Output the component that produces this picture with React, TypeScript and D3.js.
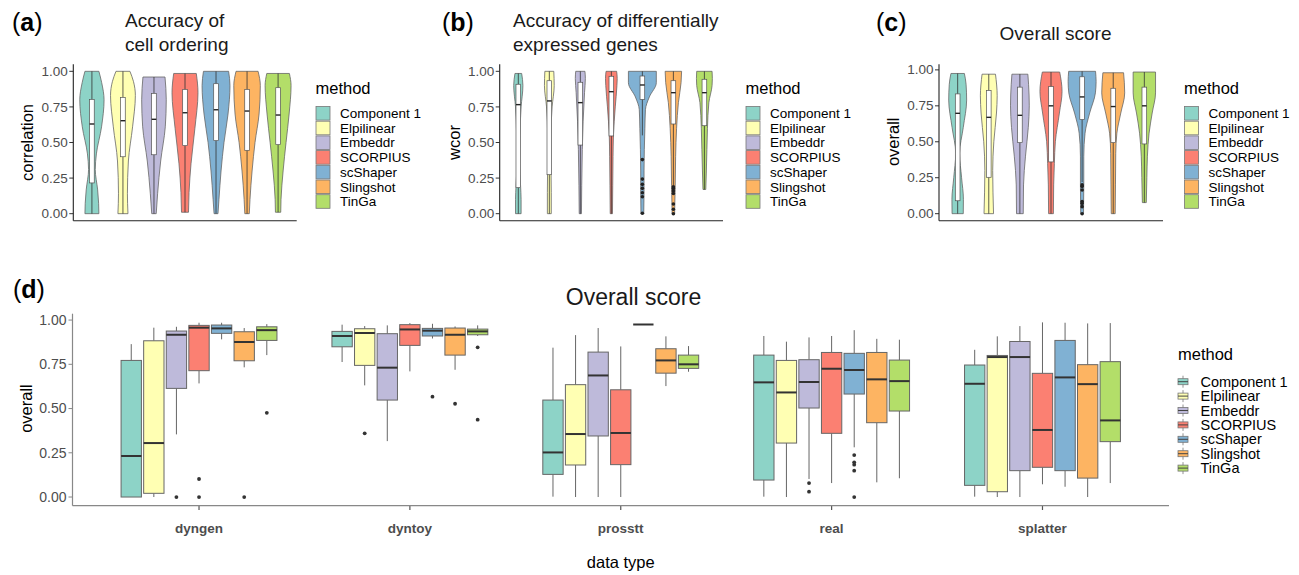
import React from "react";
import * as d3 from "d3";

const methods = ["Component 1", "Elpilinear", "Embeddr", "SCORPIUS", "scShaper", "Slingshot", "TinGa"];
const methodColors = ["#8DD3C7", "#FFFFB3", "#BEBADA", "#FB8072", "#80B1D3", "#FDB462", "#B3DE69"];
const yTicks = [0, 0.25, 0.5, 0.75, 1];

// ---- (a) Accuracy of cell ordering: [lowWhisker, q1, median, q3, highWhisker]
const cellOrderBoxes = [
  [0, 0.216, 0.63, 0.803, 1.0],
  [0, 0.4, 0.653, 0.817, 1.0],
  [0, 0.414, 0.663, 0.845, 0.96],
  [0.01, 0.478, 0.709, 0.873, 0.985],
  [0, 0.513, 0.73, 0.913, 1.0],
  [0, 0.445, 0.721, 0.873, 1.0],
  [0.01, 0.485, 0.693, 0.885, 0.985],
];
// violin density profiles: [value, relative width]
const cellOrderViolins = [
  [[0, 0.5], [0.073, 0.48], [0.167, 0.41], [0.31, 0.24], [0.42, 0.32], [0.61, 0.69], [0.8, 0.87], [0.92, 0.7], [1.0, 0.5]],
  [[0, 0.36], [0.14, 0.32], [0.37, 0.39], [0.61, 0.69], [0.83, 0.89], [0.93, 0.75], [1.0, 0.5]],
  [[0, 0.16], [0.14, 0.26], [0.37, 0.48], [0.61, 0.81], [0.8, 0.88], [0.96, 0.79]],
  [[0.01, 0.25], [0.15, 0.29], [0.35, 0.43], [0.6, 0.71], [0.85, 0.93], [0.985, 0.81]],
  [[0, 0.14], [0.1, 0.21], [0.3, 0.36], [0.5, 0.57], [0.7, 0.86], [0.9, 1.0], [1.0, 0.9]],
  [[0, 0.16], [0.1, 0.21], [0.3, 0.36], [0.5, 0.57], [0.7, 0.86], [0.9, 0.95], [1.0, 0.79]],
  [[0.01, 0.19], [0.1, 0.21], [0.3, 0.36], [0.5, 0.57], [0.7, 0.79], [0.9, 0.93], [0.985, 0.81]],
];
const cellOrderOutliers = [[], [], [], [], [], [], []];

// ---- (b) Accuracy of differentially expressed genes
const degBoxes = [
  [0, 0.183, 0.766, 0.909, 0.985],
  [0, 0.274, 0.792, 0.934, 1.0],
  [0, 0.482, 0.78, 0.923, 1.0],
  [0, 0.546, 0.857, 0.965, 1.0],
  [0.55, 0.803, 0.904, 0.967, 1.0],
  [0.2, 0.63, 0.85, 0.934, 1.0],
  [0.17, 0.618, 0.85, 0.944, 1.0],
];
const degViolins = [
  [[0, 0.2], [0.1, 0.2], [0.2, 0.16], [0.35, 0.1], [0.55, 0.12], [0.75, 0.2], [0.9, 0.33], [0.985, 0.24]],
  [[0, 0.14], [0.15, 0.14], [0.35, 0.12], [0.55, 0.12], [0.75, 0.2], [0.9, 0.35], [1.0, 0.32]],
  [[0, 0.08], [0.2, 0.1], [0.45, 0.14], [0.65, 0.2], [0.85, 0.3], [0.95, 0.36], [1.0, 0.33]],
  [[0, 0.08], [0.2, 0.1], [0.4, 0.12], [0.55, 0.15], [0.75, 0.28], [0.9, 0.4], [0.95, 0.42], [1.0, 0.38]],
  [[0, 0.1], [0.15, 0.12], [0.3, 0.12], [0.45, 0.14], [0.6, 0.18], [0.73, 0.22], [0.82, 0.5], [0.92, 1.0], [1.0, 1.0]],
  [[0, 0.09], [0.2, 0.13], [0.4, 0.16], [0.6, 0.23], [0.78, 0.36], [0.92, 0.55], [1.0, 0.59]],
  [[0.17, 0.1], [0.3, 0.14], [0.45, 0.18], [0.6, 0.22], [0.78, 0.32], [0.9, 0.55], [0.95, 0.57], [1.0, 0.55]],
];
const degOutliers = [
  [], [], [], [],
  [0.38, 0.243, 0.206, 0.178, 0.147, 0.119, 0.003],
  [0.188, 0.177, 0.16, 0.142, 0.068, 0.031, 0],
  [],
];

// ---- (c) Overall score
const overallBoxes = [
  [0, 0.09, 0.698, 0.833, 0.975],
  [0, 0.253, 0.67, 0.856, 0.97],
  [0, 0.494, 0.684, 0.88, 0.97],
  [0, 0.36, 0.75, 0.884, 0.985],
  [0.22, 0.655, 0.812, 0.952, 0.99],
  [0, 0.494, 0.745, 0.872, 0.98],
  [0.077, 0.485, 0.75, 0.88, 0.985],
];
const overallViolins = [
  [[0, 0.4], [0.1, 0.41], [0.25, 0.28], [0.42, 0.14], [0.6, 0.4], [0.79, 0.64], [0.9, 0.6], [0.975, 0.48]],
  [[0, 0.34], [0.15, 0.3], [0.3, 0.28], [0.5, 0.36], [0.7, 0.55], [0.82, 0.6], [0.97, 0.48]],
  [[0, 0.24], [0.2, 0.26], [0.4, 0.4], [0.6, 0.6], [0.75, 0.67], [0.9, 0.62], [0.97, 0.57]],
  [[0, 0.17], [0.2, 0.19], [0.35, 0.24], [0.5, 0.31], [0.7, 0.6], [0.85, 0.79], [0.985, 0.62]],
  [[0, 0.1], [0.2, 0.12], [0.4, 0.12], [0.56, 0.21], [0.7, 0.54], [0.84, 0.95], [0.92, 1.0], [0.99, 0.96]],
  [[0, 0.14], [0.2, 0.16], [0.42, 0.18], [0.56, 0.26], [0.7, 0.54], [0.84, 0.82], [0.98, 0.74]],
  [[0.077, 0.14], [0.25, 0.18], [0.4, 0.22], [0.56, 0.34], [0.7, 0.56], [0.84, 0.8], [0.985, 0.8]],
];
const overallOutliers = [
  [], [], [], [],
  [0.2, 0.19, 0.165, 0.084, 0.072, 0.049, 0.0],
  [], [],
];

// ---- (d) Overall score by data type
const dataTypes = ["dyngen", "dyntoy", "prosstt", "real", "splatter"];
const dyngenBoxes = [
  [0, 0, 0.232, 0.772, 0.864],
  [0, 0.021, 0.305, 0.883, 0.957],
  [0.354, 0.614, 0.917, 0.938, 0.962],
  [0.642, 0.714, 0.957, 0.97, 0.985],
  [0.891, 0.925, 0.953, 0.972, 0.985],
  [0.733, 0.77, 0.876, 0.934, 0.955],
  [0.802, 0.885, 0.943, 0.962, 0.977],
];
const dyngenOutliers = [[], [], [0], [0.102, 0], [], [0], [0.476]];
const dyntoyBoxes = [
  [0.763, 0.849, 0.91, 0.936, 0.974],
  [0.631, 0.744, 0.927, 0.951, 0.966],
  [0.316, 0.548, 0.731, 0.923, 0.97],
  [0.71, 0.857, 0.947, 0.974, 0.983],
  [0.896, 0.91, 0.94, 0.953, 0.979],
  [0.719, 0.802, 0.917, 0.955, 0.964],
  [0.91, 0.917, 0.936, 0.949, 0.97],
];
const dyntoyOutliers = [[], [0.36], [], [], [0.567], [0.527], [0.846, 0.437]];
const prossttBoxes = [
  [0.002, 0.128, 0.252, 0.548, 0.844],
  [0, 0.181, 0.356, 0.635, 0.915],
  [0, 0.345, 0.687, 0.819, 0.955],
  [0, 0.183, 0.362, 0.606, 0.851],
  [0.975, 0.975, 0.975, 0.975, 0.975],
  [0.627, 0.7, 0.772, 0.838, 0.908],
  [0.708, 0.727, 0.75, 0.802, 0.853],
];
const prossttOutliers = [[], [], [], [], [], [], []];
const realBoxes = [
  [0.002, 0.096, 0.648, 0.802, 0.91],
  [0, 0.305, 0.591, 0.772, 0.878],
  [0.102, 0.503, 0.65, 0.776, 0.902],
  [0.079, 0.36, 0.725, 0.817, 0.91],
  [0.281, 0.582, 0.718, 0.812, 0.943],
  [0.083, 0.42, 0.665, 0.817, 0.894],
  [0.106, 0.486, 0.655, 0.774, 0.889],
];
const realOutliers = [[], [], [0.079, 0.03], [], [0.237, 0.196, 0.183, 0.149, 0], [], []];
const splatterBoxes = [
  [0.002, 0.066, 0.64, 0.746, 0.832],
  [0, 0.03, 0.791, 0.8, 0.908],
  [0, 0.149, 0.791, 0.879, 0.966],
  [0.072, 0.168, 0.379, 0.699, 0.987],
  [0.058, 0.149, 0.676, 0.885, 0.985],
  [0, 0.107, 0.638, 0.748, 0.981],
  [0.079, 0.313, 0.433, 0.765, 0.983],
];
const splatterOutliers = [[], [], [], [], [], [], []];

const groupBoxes = [dyngenBoxes, dyntoyBoxes, prossttBoxes, realBoxes, splatterBoxes];
const groupOutliers = [dyngenOutliers, dyntoyOutliers, prossttOutliers, realOutliers, splatterOutliers];

const FONT = "'Liberation Sans', Arial, Helvetica, sans-serif";
const TICK_COLOR = "#4d4d4d";

function ViolinPanel(props: any) {
  const { left, right, domain, titleLines, titleX, titleY, titleAnchor, tag, tagX, ylab, legendX, boxes, violins, outliers } = props;
  const y = d3.scaleLinear().domain(domain).range([220.8, 64.2]);
  const x = d3.scalePoint<string>().domain(methods).range([left, right]).padding(0.6);
  const step = x.step();
  const maxHalf = step * 0.45;
  const bw = step * 0.15;
  const fmt = d3.format(".2f");
  return (
    <g>
      <text x={tagX} y={31} fontSize={25} fontFamily={FONT} fill="#000">
        (<tspan fontWeight="bold">{tag}</tspan>)
      </text>
      {titleLines.map((t: string, i: number) => (
        <text key={i} x={titleX} y={titleY + i * 23.5} fontSize={19} fontFamily={FONT} textAnchor={titleAnchor} fill="#1a1a1a">
          {t}
        </text>
      ))}
      <text transform={`translate(${left - 40},${(y(0) + y(1)) / 2}) rotate(-90)`} fontSize={16.5} fontFamily={FONT} textAnchor="middle" fill="#000">
        {ylab}
      </text>
      {yTicks.map((t) => (
        <g key={t}>
          <line x1={left - 4} x2={left} y1={y(t)} y2={y(t)} stroke="#333" strokeWidth={1} />
          <text x={left - 5.5} y={y(t) + 4.6} fontSize={13.5} fontFamily={FONT} textAnchor="end" fill={TICK_COLOR}>
            {fmt(t)}
          </text>
        </g>
      ))}
      {methods.map((m, i) => {
        const cx = x(m) as number;
        const area = d3
          .area<number[]>()
          .y((d) => y(d[0]))
          .x0((d) => cx - d[1] * maxHalf)
          .x1((d) => cx + d[1] * maxHalf)
          .curve(d3.curveMonotoneY);
        const b = boxes[i];
        return (
          <g key={m}>
            <path d={area(violins[i]) || ""} fill={methodColors[i]} stroke="#666" strokeWidth={0.8} />
            <line x1={cx} x2={cx} y1={y(b[0])} y2={y(b[1])} stroke="#333" strokeWidth={0.8} />
            <line x1={cx} x2={cx} y1={y(b[3])} y2={y(b[4])} stroke="#333" strokeWidth={0.8} />
            <rect x={cx - bw / 2} width={bw} y={y(b[3])} height={y(b[1]) - y(b[3])} fill="#fff" stroke="#555" strokeWidth={0.7} />
            <line x1={cx - bw / 2} x2={cx + bw / 2} y1={y(b[2])} y2={y(b[2])} stroke="#222" strokeWidth={1.4} />
            {outliers[i].map((o: number, k: number) => (
              <circle key={k} cx={cx} cy={y(o)} r={1.8} fill="#222" />
            ))}
          </g>
        );
      })}
      <line x1={left} x2={left} y1={y.range()[0]} y2={y.range()[1]} stroke="#222" strokeWidth={1.1} />
      <line x1={left} x2={right} y1={y.range()[0]} y2={y.range()[0]} stroke="#222" strokeWidth={1.1} />
      <text x={legendX} y={94} fontSize={16.5} fontFamily={FONT} fill="#000">
        method
      </text>
      {methods.map((m, i) => (
        <g key={m}>
          <rect x={legendX + 0.5} y={106.5 + i * 14.7} width={14} height={13.6} fill={methodColors[i]} stroke="#777" strokeWidth={0.8} />
          <text x={legendX + 24.5} y={113.2 + i * 14.7 + 4.8} fontSize={13.5} fontFamily={FONT} fill="#000">
            {m}
          </text>
        </g>
      ))}
    </g>
  );
}

function BoxPanel() {
  const left = 72.5;
  const right = 1169;
  const y = d3.scaleLinear().domain([-0.049, 1.036]).range([505.7, 313.7]);
  const x = d3.scalePoint<string>().domain(dataTypes).range([left, right]).padding(0.6);
  const step = x.step();
  const slot = (step * 0.75) / methods.length;
  const bw = slot * 0.9;
  const fmt = d3.format(".2f");
  const legendX = 1178;
  return (
    <g>
      <text x={13} y={298} fontSize={25} fontFamily={FONT} fill="#000">
        (<tspan fontWeight="bold">d</tspan>)
      </text>
      <text x={633.5} y={305} fontSize={23} fontFamily={FONT} textAnchor="middle" fill="#1a1a1a">
        Overall score
      </text>
      <text transform={`translate(${32},${(y(0) + y(1)) / 2}) rotate(-90)`} fontSize={16.5} fontFamily={FONT} textAnchor="middle" fill="#000">
        overall
      </text>
      <text x={(left + right) / 2} y={568} fontSize={16.5} fontFamily={FONT} textAnchor="middle" fill="#000">
        data type
      </text>
      {yTicks.map((t) => (
        <g key={t}>
          <line x1={left - 4} x2={left} y1={y(t)} y2={y(t)} stroke="#888" strokeWidth={1} />
          <text x={left - 6} y={y(t) + 4.8} fontSize={14} fontFamily={FONT} textAnchor="end" fill={TICK_COLOR}>
            {fmt(t)}
          </text>
        </g>
      ))}
      {dataTypes.map((g, gi) => {
        const gx = x(g) as number;
        return (
          <g key={g}>
            <line x1={gx} x2={gx} y1={505.7} y2={510} stroke="#555" strokeWidth={1.2} />
            <text x={gx} y={533} fontSize={13.5} fontWeight="bold" fontFamily={FONT} textAnchor="middle" fill={TICK_COLOR}>
              {g}
            </text>
            {methods.map((m, i) => {
              const cx = gx + (i - (methods.length - 1) / 2) * slot;
              const b = groupBoxes[gi][i];
              return (
                <g key={m}>
                  <line x1={cx} x2={cx} y1={y(b[0])} y2={y(b[1])} stroke="#666" strokeWidth={1} />
                  <line x1={cx} x2={cx} y1={y(b[3])} y2={y(b[4])} stroke="#666" strokeWidth={1} />
                  <rect x={cx - bw / 2} width={bw} y={y(b[3])} height={Math.max(0, y(b[1]) - y(b[3]))} fill={methodColors[i]} stroke="#666" strokeWidth={1} />
                  <line x1={cx - bw / 2} x2={cx + bw / 2} y1={y(b[2])} y2={y(b[2])} stroke="#333" strokeWidth={2} />
                  {groupOutliers[gi][i].map((o: number, k: number) => (
                    <circle key={k} cx={cx} cy={y(o)} r={1.9} fill="#333" />
                  ))}
                </g>
              );
            })}
          </g>
        );
      })}
      <line x1={left} x2={left} y1={y.range()[0]} y2={y.range()[1]} stroke="#888" strokeWidth={1.2} />
      <line x1={left} x2={right} y1={y.range()[0]} y2={y.range()[0]} stroke="#888" strokeWidth={1.2} />
      <text x={legendX} y={359.5} fontSize={16.5} fontFamily={FONT} fill="#000">
        method
      </text>
      {methods.map((m, i) => {
        const cy = 381.7 + i * 14.4;
        const kx = legendX + 5;
        return (
          <g key={m}>
            <line x1={kx} x2={kx} y1={cy - 6} y2={cy + 6} stroke="#777" strokeWidth={0.8} />
            <rect x={kx - 5} y={cy - 3} width={10} height={6} fill={methodColors[i]} stroke="#777" strokeWidth={0.8} />
            <line x1={kx - 5} x2={kx + 5} y1={cy} y2={cy} stroke="#444" strokeWidth={1} />
            <text x={legendX + 22.5} y={cy + 5} fontSize={14.5} fontFamily={FONT} fill="#000">
              {m}
            </text>
          </g>
        );
      })}
    </g>
  );
}

export default function App() {
  return (
    <svg width={1299} height={575} style={{ position: "absolute", left: 0, top: 0, background: "#fff" }}>
      <rect width={1299} height={575} fill="#fff" />
      <ViolinPanel
        left={73.3}
        right={296.7}
        domain={[-0.05, 1.05]}
        titleLines={["Accuracy of", "cell ordering"]}
        titleX={125}
        titleY={27}
        titleAnchor="start"
        tag="a"
        tagX={12}
        ylab="correlation"
        legendX={315.5}
        boxes={cellOrderBoxes}
        violins={cellOrderViolins}
        outliers={cellOrderOutliers}
      />
      <ViolinPanel
        left={499.7}
        right={723}
        domain={[-0.05, 1.05]}
        titleLines={["Accuracy of differentially", "expressed genes"]}
        titleX={513}
        titleY={27}
        titleAnchor="start"
        tag="b"
        tagX={442}
        ylab="wcor"
        legendX={745.5}
        boxes={degBoxes}
        violins={degViolins}
        outliers={degOutliers}
      />
      <ViolinPanel
        left={939}
        right={1163}
        domain={[-0.0495, 1.0395]}
        titleLines={["Overall score"]}
        titleX={1055.5}
        titleY={40}
        titleAnchor="middle"
        tag="c"
        tagX={876}
        ylab="overall"
        legendX={1184}
        boxes={overallBoxes}
        violins={overallViolins}
        outliers={overallOutliers}
      />
      <BoxPanel />
    </svg>
  );
}
